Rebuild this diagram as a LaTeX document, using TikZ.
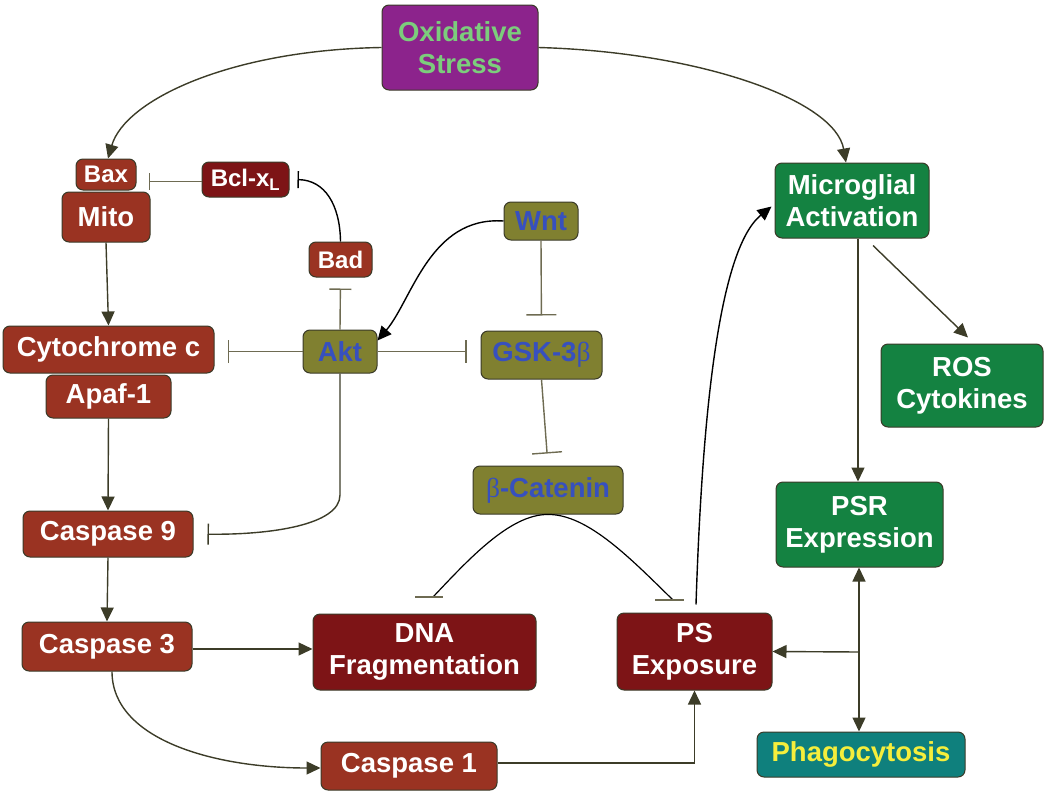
\documentclass[tikz,border=0pt]{standalone}
\usepackage{fontspec}
\setmainfont{Liberation Sans}
\newfontfamily\grk{Liberation Serif}
\usetikzlibrary{arrows.meta}
\definecolor{brick}{HTML}{9A3322}
\definecolor{dred}{HTML}{7D1416}
\definecolor{olive}{HTML}{808030}
\definecolor{oltext}{HTML}{3750BE}
\definecolor{purp}{HTML}{8C238C}
\definecolor{ptext}{HTML}{7CCD7C}
\definecolor{grn}{HTML}{148241}
\definecolor{teal2}{HTML}{0F807D}
\definecolor{yel}{HTML}{F5EE3C}
\definecolor{bord}{HTML}{3A3A28}
\definecolor{ln}{HTML}{3C3C28}
\definecolor{inhc}{HTML}{6E6B52}
\tikzset{
  box/.style={draw=bord, line width=1pt, rounded corners=7pt, inner sep=0pt, align=center,
    text=white, font=\bfseries\fontsize{27.5}{32}\selectfont},
  wh/.style 2 args={minimum width=#1pt, minimum height=#2pt},
  brickbox/.style={box, fill=brick},
  dredbox/.style={box, fill=dred},
  olbox/.style={box, fill=olive, text=oltext},
  grnbox/.style={box, fill=grn},
  arr/.style={draw=ln, line width=1.4pt, -{Triangle[length=14pt,width=13pt]}},
  carr/.style={draw=black, line width=1.4pt, -{Triangle[length=14pt,width=13pt]}},
  inh/.style={draw=inhc, line width=1.4pt, -{Bar[width=#1pt,line width=1.4pt]}},
  inh/.default=22,
  barline/.style={draw=inhc, line width=1.4pt},
}
\begin{document}
\begin{tikzpicture}[x=1pt,y=-1pt]
\useasboundingbox (0,0) rectangle (1050,798);
% nodes
\node[box, fill=purp, text=ptext, wh={156}{85}] (ox) at (460,47.5) {Oxidative\\Stress};
\node[brickbox, wh={60}{31}, font=\bfseries\fontsize{24}{28}\selectfont] (bax) at (106,174.5) {Bax};
\node[brickbox, wh={88}{50}] (mito) at (106,217) {Mito};
\node[dredbox, wh={87}{35}, font=\bfseries\fontsize{24}{28}\selectfont] (bcl) at (245.5,179.5) {Bcl-x\textsubscript{L}};
\node[brickbox, wh={63}{35}, font=\bfseries\fontsize{24}{28}\selectfont] (bad) at (340.5,259.5) {Bad};
\node[olbox, wh={74}{38}] (wnt) at (541,221) {Wnt};
\node[olbox, wh={74}{43}] (akt) at (340,351.5) {Akt};
\node[olbox, wh={121}{48}] (gsk) at (541.5,355) {GSK-3{\grk\mdseries β}};
\node[brickbox, wh={211}{47}] (cyto) at (108.5,349.5) {Cytochrome c};
\node[brickbox, wh={125}{43}] (apaf) at (108.5,396.5) {Apaf-1};
\node[olbox, wh={150}{48}] (bcat) at (548,490) {{\grk\mdseries β}-Catenin};
\node[brickbox, wh={170}{46}] (c9) at (108,534) {Caspase 9};
\node[brickbox, wh={170}{49}] (c3) at (107,646.5) {Caspase 3};
\node[dredbox, wh={223}{76}] (dna) at (424.5,652) {DNA\\Fragmentation};
\node[dredbox, wh={155}{77}] (ps) at (694.5,651.5) {PS\\Exposure};
\node[brickbox, wh={176}{48}] (c1) at (409,766) {Caspase 1};
\node[grnbox, wh={154}{75}] (mic) at (852,200.5) {Microglial\\Activation};
\node[grnbox, wh={162}{83}] (ros) at (962,385.5) {ROS\\Cytokines};
\node[grnbox, wh={167}{85}] (psr) at (859.5,524.5) {PSR\\Expression};
\node[box, fill=teal2, text=yel, wh={208}{45}] (phago) at (861,754.5) {Phagocytosis};
% coordinates
\coordinate (dnabar) at (433,597);
\coordinate (psbar) at (673,600);
\coordinate (junc) at (859,652);
\coordinate (aktturn) at (340,495);
% connectors
\draw[arr] (ox.west) .. controls (230,50) and (125,100) .. ([xshift=2pt]bax.north);
\draw[arr] (ox.east) .. controls (700,52) and (835,100) .. ([xshift=-6pt]mic.north);
\draw[inh=17, shorten >=12pt] ([yshift=-2pt]bcl.west) -- ([yshift=-2pt]bax.east |- bcl.west);
\draw[carr, -{Bar[width=17pt,line width=1.4pt]}, shorten >=8pt] (bad.north) .. controls (340,205) and (325,180) .. (bcl.east);
\draw[inh=22, shorten >=11pt] (akt.north) -- (bad.south);
\draw[carr] (wnt.west) .. controls (430,216) and (412,300) .. ([yshift=11pt]akt.east);
\draw[inh=30, shorten >=15pt] (wnt.south) -- (gsk.north);
\draw[inh=23, shorten >=14pt] (akt.east) -- (gsk.west |- akt.east);
\draw[inh=23, shorten >=13pt] (akt.west) -- (cyto.east |- akt.west);
\draw[inh=21, shorten >=14pt, draw=ln] (akt.south) -- (aktturn) .. controls (340,525) and (270,535) .. (c9.east);
\draw[arr] (mito.south) -- (cyto.north);
\draw[arr] (apaf.south) -- (c9.north);
\draw[inh=30, shorten >=12pt] (gsk.south) -- (bcat.north);
\draw[draw=black, line width=1.2pt] (bcat.south) .. controls (510,514) and (468,560) .. (dnabar);
\draw[draw=black, line width=1.2pt] (bcat.south) .. controls (588,514) and (632,560) .. (psbar);
\draw[barline] ([xshift=-18pt]dnabar) -- ([xshift=10pt]dnabar);
\draw[barline] ([xshift=-18pt]psbar) -- ([xshift=11pt]psbar);
\draw[arr] (c9.south) -- (c3.north);
\draw[arr] ([yshift=-2.5pt]c3.east) -- ([yshift=-2.5pt]c3.east -| dna.west);
\draw[arr] ([xshift=5pt]c3.south) .. controls (112,740) and (215,768) .. ([yshift=-2pt]c1.west);
\draw[arr] ([yshift=3pt]c1.east) -| (ps.south);
\draw[carr] ([xshift=1.5pt,yshift=8pt]ps.north) .. controls (702,420) and (718,250) .. ([xshift=-3pt,yshift=-6pt]mic.west);
\draw[arr] ([xshift=6pt]mic.south) -- ([xshift=-1.5pt]psr.north);
\draw[arr] ([xshift=21pt,yshift=-7pt]mic.south) -- ([xshift=6pt,yshift=6pt]ros.north);
\draw[arr] (junc) -- ([xshift=-0.5pt]psr.south);
\draw[arr] (junc) -- ([xshift=-2pt]phago.north);
\draw[arr] (junc) -- (ps.east);
\end{tikzpicture}
\end{document}
